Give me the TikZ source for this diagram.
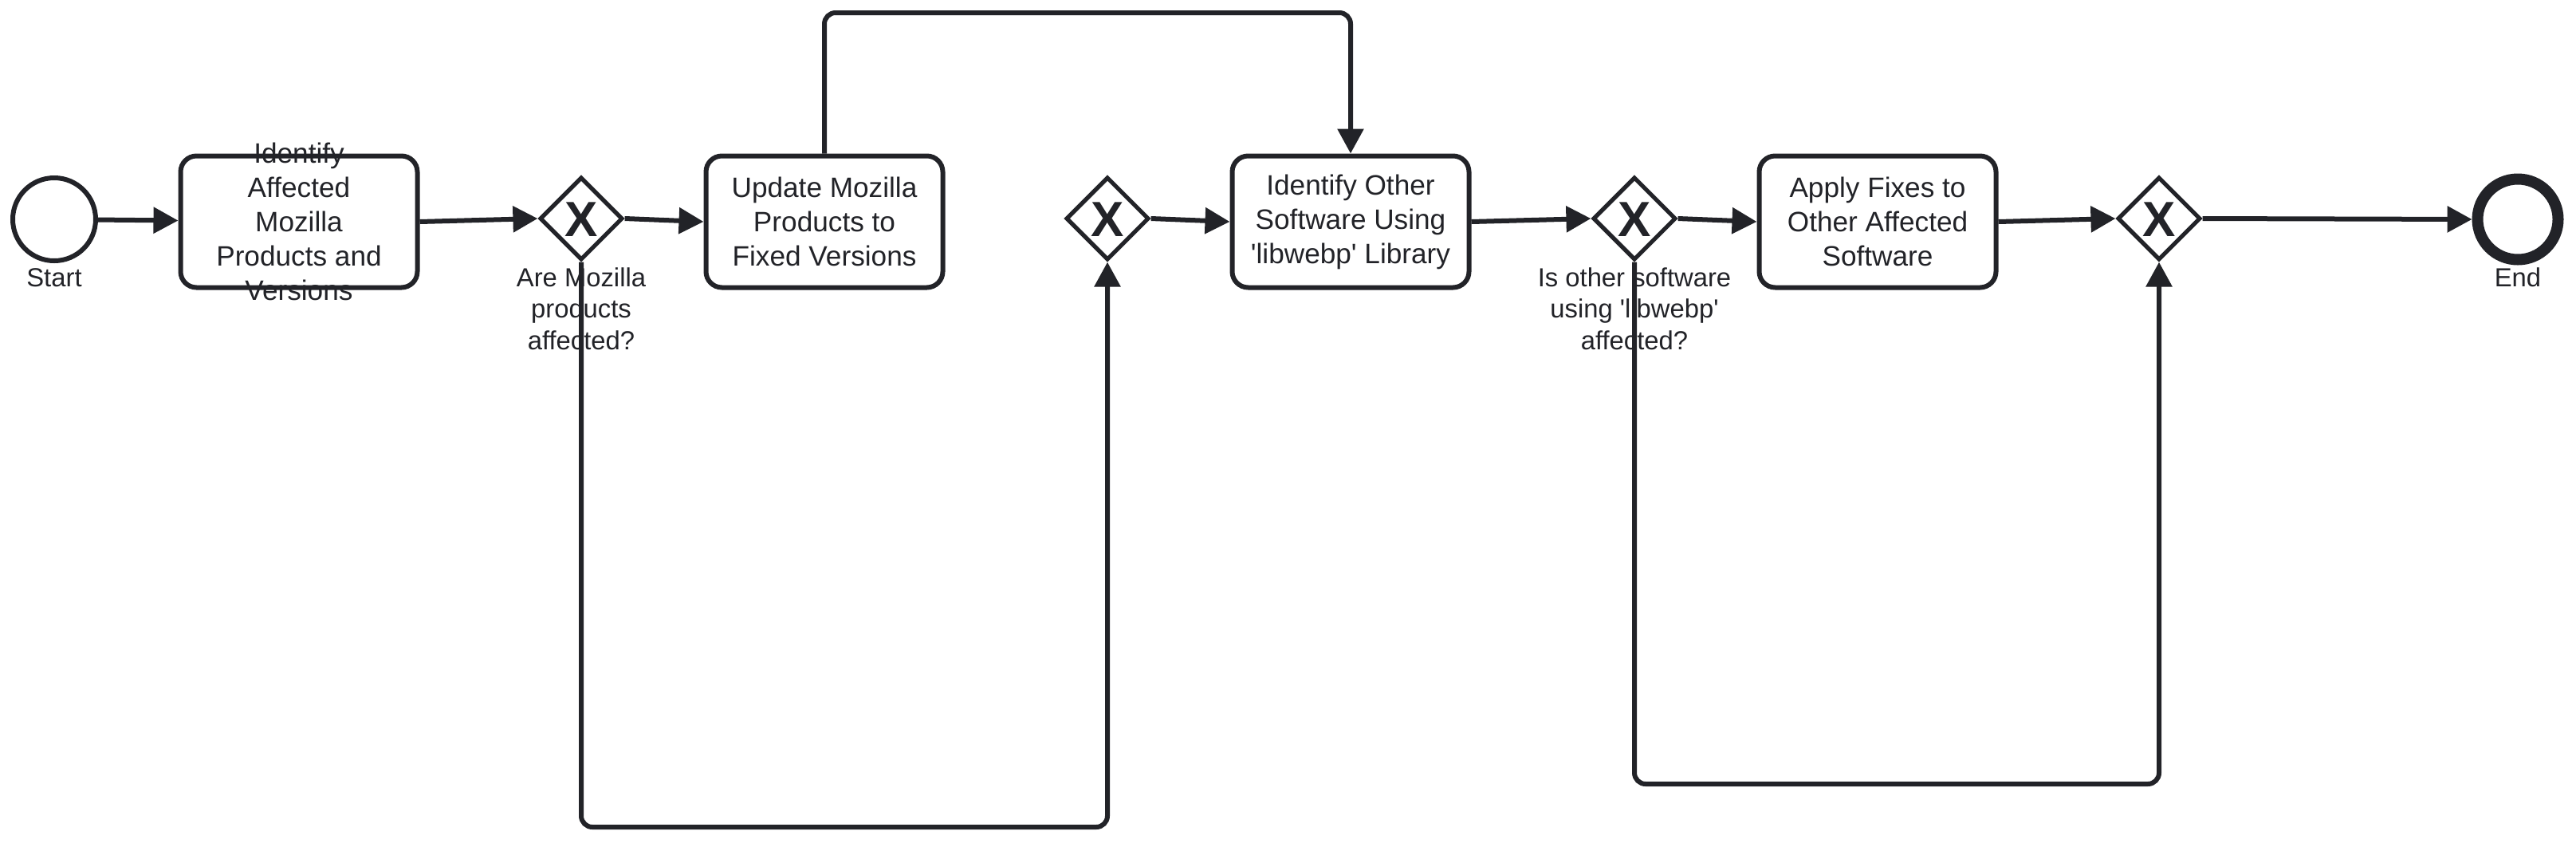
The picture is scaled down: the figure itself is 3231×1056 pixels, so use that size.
\documentclass[tikz,border=0pt]{standalone}
\usepackage{fontspec}
\setmainfont{Liberation Sans}
\usetikzlibrary{arrows.meta,shapes.geometric}
\definecolor{ink}{RGB}{34,35,40}
\begin{document}
\begin{tikzpicture}[x=0.5pt,y=-0.5pt,
  task/.style={draw=ink, line width=3pt, rounded corners=10pt, minimum width=148.5pt, minimum height=82.5pt, inner sep=0pt, align=center, text=ink, font=\fontsize{17.6}{21.5}\selectfont},
  tasktext/.style={inner sep=0pt, align=center, text=ink, font=\fontsize{17.6}{21.5}\selectfont},
  gw/.style={diamond, aspect=1, draw=ink, line width=2.6pt, minimum width=52pt, minimum height=52pt, inner sep=0pt},
  gwx/.style={inner sep=0pt, text=ink, font=\fontsize{31}{31}\selectfont\bfseries},
  lbl/.style={inner sep=0pt, align=center, text=ink, font=\fontsize{16.4}{19.75}\selectfont},
  startev/.style={circle, draw=ink, line width=3pt, minimum size=52pt, inner sep=0pt},
  endev/.style={circle, draw=ink, line width=7pt, minimum size=50.5pt, inner sep=0pt},
  flow/.style={draw=ink, line width=3pt, rounded corners=7pt, -{Triangle[length=15.5pt,width=16pt]}}
]
\useasboundingbox[fill=white] (0,0) rectangle (3231,1056);

\node[startev] (start) at (68,275) {};
\node[lbl] (startlbl) at (68,348) {Start};
\node[task] (t1) at (375,278) {};
\node[tasktext] (t1text) at (375,278) {Identify\\Affected\\Mozilla\\Products and\\Versions};
\node[gw] (g1) at (729,274) {};
\node[gwx] (g1x) at (729,275) {X};
\node[lbl] (g1lbl) at (729,387) {Are Mozilla\\products\\affected?};
\node[task] (t2) at (1034,278) {Update Mozilla\\Products to\\Fixed Versions};
\node[gw] (g2) at (1389,274) {};
\node[gwx] (g2x) at (1389,275) {X};
\node[task] (t3) at (1694,278) {Identify Other\\Software Using\\\textquotesingle libwebp\textquotesingle{} Library};
\node[gw] (g3) at (2050,274) {};
\node[gwx] (g3x) at (2050,275) {X};
\node[lbl] (g3lbl) at (2050,387) {Is other software\\using \textquotesingle libwebp\textquotesingle\\affected?};
\node[task] (t4) at (2355,278) {Apply Fixes to\\Other Affected\\Software};
\node[gw] (g4) at (2708,274) {};
\node[gwx] (g4x) at (2708,275) {X};
\node[endev] (end) at (3158,275) {};
\node[lbl] (endlbl) at (3158,348) {End};

\coordinate (topbar) at (1400,16);
\coordinate (bot1) at (1000,1037);
\coordinate (bot2) at (2400,983);

\draw[flow] (start) -- (t1);
\draw[flow] (t1.east) -- (g1.west);
\draw[flow] (g1.east) -- (t2.west);
\draw[flow] (t2.north) |- (topbar) -| (t3.north);
\draw[flow] (g1.south) |- (bot1) -| (g2.south);
\draw[flow] (g2.east) -- (t3.west);
\draw[flow] (t3.east) -- (g3.west);
\draw[flow] (g3.east) -- (t4.west);
\draw[flow] (t4.east) -- (g4.west);
\draw[flow] (g3.south) |- (bot2) -| (g4.south);
\draw[flow] (g4.east) -- (end.west);
\end{tikzpicture}
\end{document}
